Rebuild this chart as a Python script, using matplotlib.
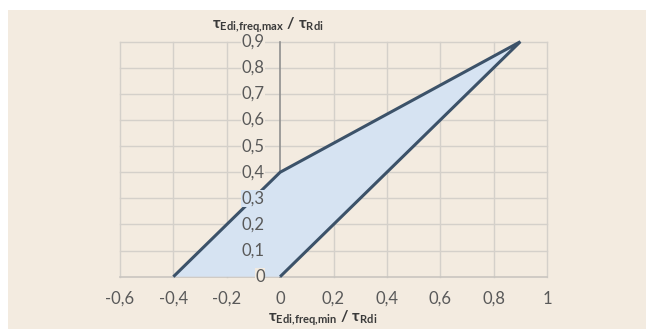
import matplotlib
matplotlib.use("Agg")
import matplotlib.pyplot as plt
from matplotlib.path import Path
import numpy as np

# Data
poly_x = [-0.4, 0.0, 0.9, 0.0, -0.4]
poly_y = [0.0, 0.4, 0.9, 0.0, 0.0]
xticks = [-0.6, -0.4, -0.2, 0.0, 0.2, 0.4, 0.6, 0.8, 1.0]
yticks = [0.0, 0.1, 0.2, 0.3, 0.4, 0.5, 0.6, 0.7, 0.8, 0.9]
xlabel = r'$\mathbf{\tau_{Edi{,}freq{,}min}}$ $\mathbf{/}$ $\mathbf{\tau_{Rdi}}$'
ylabel = r'$\mathbf{\tau_{Edi{,}freq{,}max}}$ $\mathbf{/}$ $\mathbf{\tau_{Rdi}}$'

def fmt(v):
    s = ('%.1f' % v).replace('.', ',')
    if s in ('0,0', '-0,0'):
        return '0'
    if s == '1,0':
        return '1'
    return s

BG = '#f3ebe0'
FILL = '#d6e3f2'
LINE = '#3c5269'
GRID = '#d4d0ca'
TXT = '#595959'

plt.rcParams['font.family'] = ['Lato', 'DejaVu Sans']
plt.rcParams['mathtext.fontset'] = 'custom'
plt.rcParams['mathtext.rm'] = 'Lato'
plt.rcParams['mathtext.bf'] = 'Lato:bold'
plt.rcParams['mathtext.it'] = 'Lato:italic'

W, H = 646, 329
fig = plt.figure(figsize=(W/100, H/100), dpi=100, facecolor='white')
bgrect = plt.Rectangle((8/W, 0), 1 - 8/W, 1 - 10/H, transform=fig.transFigure,
                       facecolor=BG, edgecolor='none', zorder=-10)
fig.patches.append(bgrect)

ax = fig.add_axes([120/W, 52.3/H, 427/W, 235/H])
ax.set_zorder(1)
ax.set_facecolor('none')
ax.set_xlim(-0.6, 1.0)
ax.set_ylim(0, 0.9)
for s in ax.spines.values():
    s.set_visible(False)

# grid
for x in xticks:
    if abs(x) > 1e-9:
        ax.plot([x, x], [0, 0.9], color=GRID, lw=1.0, zorder=1, clip_on=False)
for y in yticks[1:]:
    ax.plot([-0.6, 1.0], [y, y], color=GRID, lw=1.0, zorder=1, clip_on=False)
# axes lines
ax.plot([-0.6, 1.0], [0, 0], color='#c9c5c0', lw=1.2, zorder=1.5, clip_on=False)
ax.plot([0, 0], [0, 0.9], color='#8f8f8f', lw=1.2, zorder=1.5, clip_on=False)

# polygon: filled region, outline drawn only along the slanted edges
ax.fill(poly_x, poly_y, color=FILL, zorder=2, lw=0)
ax.plot(poly_x[:4], poly_y[:4], color=LINE, lw=2.2, zorder=3,
        solid_joinstyle='miter', solid_capstyle='butt', clip_on=False)

# x ticks
ax.set_xticks(xticks)
ax.set_xticklabels([fmt(v) for v in xticks], color=TXT, fontsize=12)
ax.tick_params(axis='x', length=0, pad=10)
ax.set_yticks([])

path = Path(np.column_stack([poly_x, poly_y]))
for y in yticks:
    inside = path.contains_point((-0.09, y)) and y > 0
    bc = FILL if inside else BG
    ax.annotate(fmt(y), (0, y), xytext=(-11, 0), textcoords='offset points',
                ha='right', va='center', color=TXT, fontsize=12, zorder=5,
                bbox=dict(boxstyle='square,pad=0.03', facecolor=bc, edgecolor='none'))

fig.text(268/W, 1 - 25/H, ylabel, ha='center', va='center', fontsize=11.5, color='#3a3a3a')
fig.text(268/W, 1 - 318/H, xlabel, ha='left', va='center', fontsize=11.5, color='#3a3a3a')

fig.savefig('out.png', dpi=100, facecolor='white')
